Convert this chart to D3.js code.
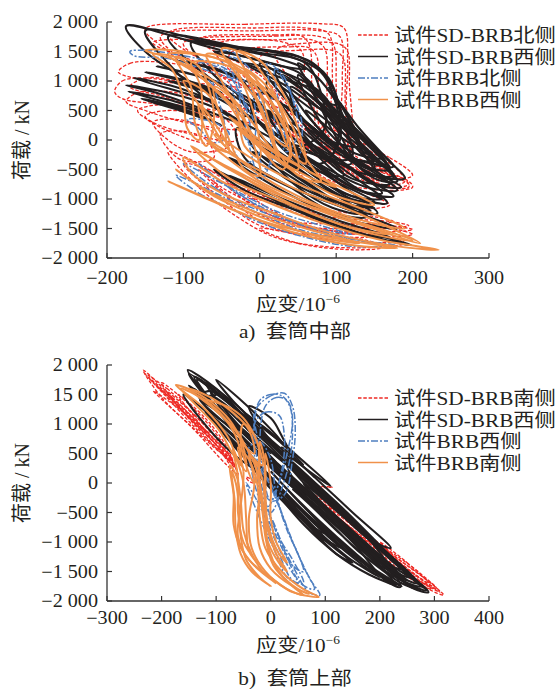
<!DOCTYPE html>
<html>
<head>
<meta charset="utf-8">
<script src="https://cdn.jsdelivr.net/npm/d3@7"></script>
<style>
  body { margin: 0; background: #fff; }
  text { font-family: 'Liberation Serif', 'Noto Sans CJK SC', serif; fill: #231f20; }
</style>
</head>
<body>
<svg id="chart"></svg>
<script>
const width = 558
const height = 689

// tick values and labels
const yTicks = [2000, 1500, 1000, 500, 0, -500, -1000, -1500, -2000]
const yLabelsTop = ['2 000', '1 500', '1 000', '500', '0', '−500', '−1 000', '−1 500', '−2 000']
const yLabelsBottom = ['2 000', '15 00', '1 000', '500', '0', '−500', '−1 000', '−1 500', '−2 000']
const xTicksTop = [-200, -100, 0, 100, 200, 300]
const xTicksBottom = [-300, -200, -100, 0, 100, 200, 300, 400]
const legendTop = ['试件SD-BRB北侧', '试件SD-BRB西侧', '试件BRB北侧', '试件BRB西侧']
const legendBottom = ['试件SD-BRB南侧', '试件SD-BRB西侧', '试件BRB西侧', '试件BRB南侧']
const captions = ['a)  套筒中部', 'b)  套筒上部']

// hysteresis loops, [strain, load]
const topRed = [
  [[-150,1880],[-20,1960],[80,1970],[110,1900],[115,1300],[115,400],[140,-300],[190,-700],[150,-750],[60,-100],[-40,700],[-120,1500]],
  [[-130,1750],[0,1850],[80,1850],[105,1750],[108,1000],[110,200],[150,-400],[175,-650],[120,-500],[30,200],[-60,1000]],
  [[-100,1640],[20,1760],[75,1760],[95,1650],[100,900],[100,0],[140,-500],[160,-700],[100,-400],[0,500],[-60,1200]],
  [[-60,1580],[30,1700],[70,1690],[85,1550],[88,800],[90,-200],[130,-650],[80,-300],[20,500]],
  [[-40,1450],[40,1580],[65,1560],[75,1400],[75,500],[80,-300],[60,-100],[0,800]],
  [[0,1400],[50,1520],[100,1500],[110,1350],[112,600],[120,-200],[160,-500],[110,-300],[50,300]],
  [[20,1500],[70,1650],[105,1620],[115,1500],[118,800],[130,0],[180,-500],[195,-800],[150,-700],[100,-100],[60,700]],
  [[-120,1800],[0,1900],[60,1900],[90,1800],[95,1100],[95,300],[120,-200],[90,-100],[40,500]],
  [[-80,1700],[20,1780],[55,1760],[65,1600],[68,900],[70,200],[50,400],[0,1100]],
  [[-140,1650],[-50,1700],[30,1660],[55,1500],[55,900],[40,500],[-20,900],[-80,1300]],
  [[-190,820],[-180,1000],[-150,1050],[-100,950],[-40,700],[0,300],[-60,400],[-130,600],[-180,700]],
  [[-185,1150],[-170,1300],[-130,1320],[-80,1200],[-20,900],[-70,950],[-140,1000]],
  [[-175,650],[-160,800],[-120,820],[-60,600],[-20,200],[-80,250],[-150,500]],
  [[-170,900],[-150,1050],[-110,1000],[-60,800],[-30,500],[-80,550],[-130,750]],
  [[-160,500],[-130,600],[-90,550],[-40,300],[-30,0],[-90,100],[-140,300]],
  [[-150,400],[-120,500],[-80,420],[-50,200],[-60,-50],[-110,100]],
  [[-140,300],[-110,350],[-70,200],[-40,-100],[-90,-200],[-125,50]],
  [[-130,100],[-100,150],[-70,0],[-60,-300],[-100,-350],[-120,-150]],
  [[-120,-200],[-80,-800],[-30,-1300],[20,-1650],[80,-1800],[150,-1820],[190,-1750],[170,-1650],[100,-1550],[40,-1350],[-20,-900],[-80,-400]],
  [[-100,-400],[-50,-1000],[0,-1450],[60,-1600],[140,-1650],[200,-1600],[180,-1520],[110,-1450],[40,-1200],[-30,-700]],
  [[-80,-500],[-30,-1100],[20,-1500],[100,-1700],[180,-1720],[160,-1620],[80,-1550],[10,-1200],[-50,-800]],
  [[-60,-700],[-10,-1200],[40,-1450],[120,-1500],[195,-1450],[170,-1380],[90,-1300],[20,-1000]],
  [[-40,-800],[10,-1250],[70,-1500],[150,-1560],[200,-1520],[170,-1450],[90,-1380],[30,-1100]],
  [[-20,-1000],[30,-1350],[100,-1420],[175,-1380],[150,-1300],[60,-1150]],
  [[0,-1500],[50,-1750],[120,-1860],[160,-1820],[140,-1700],[60,-1600]],
  [[60,-100],[150,-500],[195,-700],[200,-800],[160,-850],[80,-600]],
  [[80,200],[170,-300],[200,-600],[170,-650],[100,-300]],
  [[100,-200],[160,-550],[195,-750],[170,-800],[120,-500]],
  [[40,-300],[120,-800],[170,-1100],[130,-1150],[70,-800]]
]
const topBlack = [
  [[-175,1930],[-80,1650],[20,1500],[70,1300],[95,900],[110,300],[120,-300],[60,-200],[0,300],[-80,900],[-150,1500]],
  [[-150,1850],[-50,1600],[30,1450],[80,1150],[100,600],[105,0],[80,-400],[20,0],[-60,600],[-120,1300]],
  [[-120,1750],[-20,1560],[50,1420],[90,1050],[105,300],[90,-300],[40,200],[-40,800]],
  [[-90,1650],[0,1480],[60,1300],[80,800],[85,200],[50,-100],[0,500],[-60,1100]],
  [[-100,1700],[-40,1550],[20,1400],[60,1200],[30,1250],[-30,1450]],
  [[-60,1500],[0,1350],[50,1150],[70,900],[40,1000],[-10,1250]],
  [[-20,1300],[40,1100],[80,800],[100,400],[70,600],[30,950]],
  [[50,1300],[80,1000],[100,600],[80,700]],
  [[-175,930],[-120,800],[-60,550],[-30,300],[-70,500],[-130,780]],
  [[-172,820],[-110,650],[-60,400],[-90,520],[-140,700]],
  [[-165,1050],[-110,900],[-60,650],[-100,800]],
  [[-155,700],[-110,560],[-70,350],[-100,480]],
  [[-150,1150],[-100,1000],[-50,800],[-80,950],[-120,1080]],
  [[-120,1000],[-70,850],[-30,600],[-60,780]],
  [[-135,1250],[-90,1120],[-40,900],[-70,1050]],
  [[-130,650],[-90,480],[-50,250],[-80,420]],
  [[-110,1350],[-60,1200],[-20,1000],[-50,1180]],
  [[0,800],[60,300],[120,-300],[180,-850],[140,-800],[90,-500],[30,0],[-10,500]],
  [[-10,600],[50,100],[110,-500],[167,-1070],[120,-950],[60,-500],[0,100]],
  [[-20,400],[40,-100],[100,-700],[154,-1240],[110,-1150],[50,-700],[-10,-100]],
  [[10,1000],[70,500],[130,-100],[175,-600],[130,-550],[70,-100],[20,500]],
  [[20,1200],[80,700],[140,0],[165,-400],[120,-300],[60,300]],
  [[30,1100],[70,700],[110,200],[150,-300],[175,-650],[140,-550],[100,-100],[60,450]],
  [[0,1300],[50,900],[100,400],[130,-100],[90,0],[40,600]],
  [[50,1100],[90,600],[130,100],[160,-300],[120,-200],[80,300]],
  [[60,1000],[100,500],[140,0],[175,-450],[150,-400],[110,100]],
  [[70,800],[110,300],[150,-200],[170,-500],[130,-400],[100,200]],
  [[80,600],[120,100],[160,-400],[180,-700],[150,-650],[110,-150]],
  [[100,700],[130,200],[165,-300],[190,-650],[160,-600],[130,-100]],
  [[110,400],[140,-50],[170,-450],[150,-350]],
  [[60,500],[100,100],[150,-350],[120,-300],[80,150]],
  [[90,900],[110,500],[130,0],[120,300]],
  [[-20,1000],[30,600],[80,100],[120,-400],[80,-300],[30,200]],
  [[-30,800],[20,400],[70,-100],[110,-600],[70,-500],[20,0]],
  [[10,500],[60,0],[110,-400],[160,-900],[130,-850],[80,-450],[30,50]],
  [[40,300],[90,-200],[140,-650],[175,-950],[140,-900],[90,-450]],
  [[-30,200],[30,-300],[90,-850],[140,-1300],[100,-1250],[40,-800],[-20,-300]],
  [[20,0],[70,-400],[120,-800],[160,-1000],[120,-950],[70,-600]],
  [[50,-300],[100,-700],[150,-1050],[120,-1000],[80,-650]],
  [[-10,-200],[50,-600],[110,-1000],[150,-1150],[100,-1050],[40,-700]],
  [[0,-100],[50,-500],[100,-900],[145,-1200],[110,-1100],[60,-700]],
  [[20,-400],[80,-900],[130,-1250],[95,-1150],[50,-800]],
  [[40,900],[90,400],[140,-200],[150,-500],[100,-200],[50,400]],
  [[30,600],[80,100],[130,-450],[170,-750],[120,-650],[70,-100]],
  [[60,200],[110,-200],[160,-600],[185,-800],[150,-750],[100,-300]],
  [[-60,-500],[20,-1000],[100,-1400],[198,-1780],[150,-1650],[60,-1250],[-20,-850]],
  [[-40,-300],[40,-800],[120,-1200],[180,-1500],[130,-1400],[50,-1000]],
  [[-40,-600],[30,-1000],[100,-1350],[170,-1650],[120,-1550],[40,-1150]]
]
const topBlue = [
  [[-170,1500],[-150,1520],[-110,1450],[-60,1300],[-20,1000],[-50,1100],[-120,1380],[-165,1430]],
  [[-95,350],[-80,200],[-60,-50],[-40,100],[-60,300]],
  [[-40,1400],[-20,1300],[0,900],[10,300],[15,-300],[0,-700],[-10,-300],[-20,300],[-30,900]],
  [[-50,1500],[-30,1450],[-15,1000],[-5,400],[-10,-100],[-25,200],[-35,800]],
  [[-30,1200],[-10,1000],[5,500],[20,0],[10,-500],[-5,-200],[-15,400]],
  [[-60,1000],[-30,800],[-10,400],[0,-200],[-20,-400],[-40,0],[-50,500]],
  [[-80,1300],[-50,1200],[-30,900],[-20,500],[-40,600],[-60,900]],
  [[10,1300],[30,1100],[45,600],[50,100],[35,-200],[20,300],[15,800]],
  [[20,1200],[40,800],[55,300],[50,-300],[35,0],[25,600]],
  [[-110,-600],[-80,-900],[-40,-1150],[0,-1400],[60,-1650],[120,-1800],[178,-1790],[130,-1700],[60,-1550],[0,-1250],[-50,-950],[-90,-700]],
  [[-100,-400],[-60,-800],[-10,-1150],[60,-1450],[120,-1600],[80,-1450],[20,-1200],[-40,-800]],
  [[-80,-400],[-40,-800],[10,-1200],[80,-1550],[150,-1750],[100,-1600],[30,-1300],[-30,-900]]
]
const topOrange = [
  [[-150,1520],[-100,1500],[-40,1300],[0,900],[30,300],[40,-300],[20,-200],[-10,300],[-50,900],[-110,1350]],
  [[-120,1450],[-60,1400],[-10,1100],[20,500],[40,-100],[30,-500],[0,-100],[-30,500],[-80,1100]],
  [[-90,1300],[-40,1250],[-5,900],[10,400],[20,-300],[-10,0],[-40,600]],
  [[-30,1500],[0,1350],[30,800],[50,200],[60,-400],[40,-200],[20,400],[-10,1000]],
  [[-50,1550],[-20,1450],[10,1000],[30,400],[35,-100],[15,100],[0,600],[-30,1100]],
  [[-70,1450],[-40,1350],[-20,900],[-5,300],[0,-300],[-20,-100],[-30,500],[-50,1000]],
  [[-140,1450],[-100,1350],[-80,1000],[-75,500],[-80,0],[-95,200],[-100,700],[-115,1200]],
  [[-110,1400],[-80,1250],[-65,800],[-60,300],[-70,-100],[-85,300],[-90,900]],
  [[-100,1000],[-70,800],[-50,400],[-45,-100],[-60,200],[-80,600]],
  [[-60,900],[-30,600],[-10,0],[0,-600],[-20,-500],[-40,0]],
  [[-10,1000],[20,700],[40,100],[50,-500],[30,-400],[10,200]],
  [[-80,600],[-60,300],[-40,-200],[-60,-100],[-75,300]],
  [[-100,-300],[-50,-700],[0,-1000],[80,-1400],[160,-1700],[234,-1860],[190,-1820],[100,-1600],[20,-1250],[-50,-900],[-90,-550]],
  [[-80,-200],[-20,-600],[40,-1000],[120,-1350],[200,-1700],[150,-1600],[60,-1200],[0,-800],[-50,-400]],
  [[-90,-100],[-40,-500],[20,-900],[100,-1300],[170,-1600],[110,-1450],[30,-1050],[-40,-650]],
  [[-70,0],[-10,-450],[50,-850],[130,-1250],[210,-1750],[160,-1550],[80,-1150],[0,-700]],
  [[-60,100],[0,-400],[60,-800],[140,-1200],[190,-1500],[130,-1350],[50,-950],[-10,-500]],
  [[-30,200],[30,-300],[90,-700],[150,-1100],[100,-950],[40,-500]],
  [[-110,-500],[-70,-850],[-10,-1200],[60,-1500],[130,-1750],[80,-1650],[10,-1350],[-60,-950]],
  [[-120,-700],[-60,-1050],[10,-1400],[90,-1650],[180,-1830],[120,-1780],[40,-1550],[-40,-1150]],
  [[-40,400],[10,-100],[60,-500],[100,-800],[60,-600],[10,-200]],
  [[-20,1200],[10,900],[40,300],[60,-300],[80,-700],[50,-600],[20,-100],[0,600]]
]

const botRed = [
  [[-234,1915],[-180,1450],[-120,900],[-75,450],[-60,150],[-80,300],[-140,900],[-200,1450]],
  [[-230,1850],[-190,1600],[-150,1250],[-110,850],[-130,950],[-180,1400]],
  [[-225,1800],[-170,1350],[-115,850],[-72,380],[-95,600],[-155,1150],[-205,1600]],
  [[-215,1560],[-160,1200],[-110,800],[-70,400],[-90,500],[-150,1000]],
  [[-210,1650],[-150,1150],[-100,650],[-68,300],[-90,500],[-140,950],[-190,1450]],
  [[-200,1700],[-140,1250],[-90,700],[-65,250],[-100,650],[-170,1300]],
  [[-190,1550],[-140,1150],[-95,700],[-70,350],[-100,600],[-160,1200]],
  [[-170,1500],[-120,1100],[-80,600],[-60,100],[-85,450],[-130,1000]],
  [[-45,100],[-35,60],[-30,0],[-40,30]],
  [[60,-60],[113,-70],[60,-75]],
  [[80,-200],[150,-700],[220,-1200],[280,-1600],[317,-1900],[290,-1800],[230,-1350],[160,-850],[100,-400]],
  [[90,-300],[160,-800],[230,-1300],[295,-1800],[260,-1650],[190,-1100],[120,-550]],
  [[110,-400],[180,-900],[250,-1400],[300,-1750],[270,-1650],[200,-1150],[130,-650]],
  [[130,-550],[190,-1000],[250,-1450],[310,-1850],[280,-1700],[220,-1250],[160,-800]],
  [[150,-700],[210,-1100],[270,-1500],[305,-1800],[260,-1600],[190,-1050]],
  [[200,-1000],[250,-1350],[290,-1700],[255,-1500]]
]
const botBlack = [
  [[-152,1915],[-100,1600],[-40,1050],[20,500],[80,-100],[150,-700],[220,-1300],[289,-1850],[260,-1780],[190,-1250],[120,-700],[50,-150],[-10,350],[-70,950],[-130,1600]],
  [[-150,1850],[-90,1450],[-30,950],[30,400],[100,-250],[170,-850],[240,-1450],[285,-1820],[250,-1700],[180,-1150],[110,-550],[40,0],[-20,500],[-90,1150]],
  [[-140,1800],[-80,1400],[-20,850],[40,300],[110,-350],[180,-950],[238,-1760],[210,-1650],[150,-1000],[80,-400],[20,100],[-40,650],[-100,1250]],
  [[-135,1750],[-75,1350],[-15,800],[50,250],[120,-400],[190,-1000],[260,-1600],[225,-1500],[160,-950],[90,-350],[25,200],[-40,750],[-110,1400]],
  [[-120,1700],[-60,1300],[0,700],[70,100],[140,-500],[210,-1150],[270,-1700],[240,-1600],[180,-1100],[110,-500],[40,50],[-20,600],[-80,1200]],
  [[-110,1550],[-50,1150],[10,600],[80,0],[150,-650],[220,-1250],[275,-1750],[240,-1650],[170,-1100],[100,-450],[30,100],[-30,650],[-90,1250]],
  [[-160,1500],[-110,1150],[-60,750],[0,300],[60,-200],[130,-800],[200,-1400],[229,-1730],[190,-1500],[120,-950],[50,-400],[-10,100],[-70,500],[-130,1100]],
  [[-100,1450],[-40,1000],[20,500],[90,-100],[160,-700],[230,-1350],[280,-1780],[250,-1550],[180,-950],[110,-350],[40,250],[-30,800]],
  [[-90,1350],[-30,900],[30,400],[100,-200],[170,-850],[240,-1450],[205,-1350],[140,-750],[70,-150],[10,350],[-50,850]],
  [[-100,1750],[-60,1450],[-20,1100],[20,700],[-10,900],[-60,1300]],
  [[-125,1520],[-110,1560],[-100,1500],[-115,1480]],
  [[-150,1650],[-100,1300],[-50,900],[0,500],[-30,700],[-90,1150]],
  [[-140,1600],[-100,1250],[-60,900],[-110,1200]],
  [[-130,1400],[-80,1100],[-30,700],[10,350],[-20,500],[-70,900]],
  [[-120,1200],[-70,800],[-20,300],[40,-300],[100,-850],[70,-700],[10,-150],[-40,350],[-90,900]],
  [[-100,1000],[-50,550],[10,0],[70,-600],[130,-1100],[100,-950],[40,-400],[-20,150],[-70,650]],
  [[-80,800],[-30,300],[30,-300],[90,-900],[150,-1350],[120,-1200],[60,-650],[0,-100],[-50,450]],
  [[-60,600],[0,-50],[60,-700],[120,-1200],[180,-1550],[229,-1730],[200,-1550],[140,-1150],[80,-650],[20,-100],[-40,450]],
  [[-40,500],[20,-150],[80,-750],[140,-1250],[200,-1600],[170,-1400],[110,-950],[50,-400],[-10,200]],
  [[-50,1200],[0,850],[50,450],[110,-50],[70,200],[10,650]],
  [[0,400],[60,-100],[130,-650],[200,-1250],[250,-1650],[220,-1450],[150,-900],[80,-350],[20,150]],
  [[0,200],[60,-400],[120,-950],[180,-1400],[240,-1750],[210,-1600],[150,-1150],[90,-650],[30,-100]],
  [[20,600],[80,100],[150,-500],[220,-1100],[180,-950],[110,-350],[50,150]],
  [[30,300],[90,-300],[160,-900],[230,-1500],[200,-1400],[130,-800],[60,-200]],
  [[40,-100],[100,-600],[160,-1150],[220,-1550],[270,-1800],[240,-1700],[180,-1300],[120,-800],[70,-350]],
  [[60,0],[130,-550],[200,-1100],[260,-1600],[230,-1450],[160,-900],[90,-350]],
  [[80,-300],[140,-800],[200,-1300],[250,-1650],[220,-1500],[160,-1000],[110,-550]],
  [[-60,1100],[-10,700],[40,250],[80,-50],[30,300],[-20,700]],
  [[-40,1300],[0,1100],[20,800],[40,400],[10,600]],
  [[-20,1000],[20,700],[60,300],[40,500]]
]
const botBlue = [
  [[-20,1400],[0,1500],[20,1480],[35,1300],[40,900],[35,400],[20,-100],[0,-500],[-20,-200],[-25,400],[-30,1000]],
  [[-30,1200],[-5,1450],[25,1520],[40,1300],[45,900],[40,400],[25,-200],[0,-300],[-15,300],[-25,800]],
  [[-10,1300],[10,1450],[30,1400],[40,1100],[30,500],[15,0],[-5,-400],[-15,100],[-20,700]],
  [[-30,1000],[-10,1200],[15,1150],[25,800],[20,200],[0,-300],[-20,0],[-30,500]],
  [[-40,600],[-20,700],[0,400],[10,-200],[30,-800],[50,-1200],[60,-1500],[40,-1400],[10,-900],[-20,-300],[-35,200]],
  [[-35,300],[-10,100],[15,-400],[40,-1000],[65,-1500],[80,-1800],[55,-1700],[25,-1150],[0,-600],[-20,-100]],
  [[-20,200],[0,0],[20,-500],[45,-1100],[70,-1600],[90,-1900],[70,-1850],[40,-1400],[10,-800],[-10,-300]],
  [[-45,0],[-25,-300],[0,-800],[25,-1300],[50,-1700],[30,-1600],[5,-1100],[-20,-600]],
  [[0,-600],[20,-1000],[40,-1300],[60,-1700],[40,-1650],[15,-1200],[-5,-800]]
]
const botOrange = [
  [[-174,1660],[-140,1550],[-100,1300],[-70,1000],[-50,600],[-45,200],[-60,400],[-80,800],[-120,1250],[-160,1550]],
  [[-165,1600],[-120,1400],[-85,1100],[-60,700],[-55,300],[-70,500],[-95,900],[-140,1350]],
  [[-150,1600],[-110,1450],[-70,1200],[-40,900],[-30,500],[-45,600],[-70,950],[-110,1300]],
  [[-120,1400],[-80,1300],[-50,1100],[-25,700],[-15,300],[-35,450],[-60,850],[-95,1200]],
  [[-60,600],[-50,200],[-55,-400],[-60,-900],[-40,-1300],[0,-1600],[40,-1850],[88,-1930],[60,-1800],[20,-1500],[-10,-1100],[-20,-600],[-25,0],[-40,400]],
  [[-40,500],[-30,0],[-40,-600],[-35,-1100],[-10,-1500],[30,-1800],[60,-1900],[40,-1750],[5,-1400],[-10,-900],[-15,-300],[-25,200]],
  [[-30,400],[-20,-100],[-25,-600],[-20,-1100],[0,-1450],[40,-1750],[70,-1880],[50,-1800],[15,-1500],[-5,-1050],[-10,-500],[-15,50]],
  [[-75,300],[-68,-200],[-68,-700],[-55,-1100],[-30,-1400],[10,-1700],[-10,-1550],[-35,-1200],[-50,-800],[-55,-300],[-62,100]],
  [[-72,200],[-66,-300],[-64,-800],[-55,-1200],[-35,-1500],[0,-1750],[-20,-1600],[-45,-1300],[-55,-900],[-58,-400],[-64,0]],
  [[-70,600],[-60,100],[-60,-500],[-50,-1000],[-25,-1350],[-40,-1150],[-45,-600],[-50,0]],
  [[-20,700],[-10,300],[-10,-300],[-5,-800],[10,-1200],[30,-1500],[15,-1350],[-5,-1000],[-15,-500],[-20,0]],
  [[-10,500],[0,0],[0,-600],[10,-1000],[30,-1350],[15,-1200],[-5,-700],[-10,-100]],
  [[-50,1000],[-30,800],[-20,400],[-30,0],[-45,300],[-55,700]]
]

const styles = [
  { color: '#ee2a24', width: 1.3, dash: '3.5,1.8' },
  { color: '#231f20', width: 2.1, dash: null },
  { color: '#4f7fc0', width: 1.5, dash: '7,2,2,2' },
  { color: '#f0914a', width: 2.0, dash: null }
]
const legendWidths = [1.3, 1.5, 1.5, 1.5]

const panels = [
  { xDomain: [-200, 300], top: 22, bottom: 258, xTicks: xTicksTop, yLabels: yLabelsTop,
    series: [topRed, topBlack, topBlue, topOrange], legend: legendTop, legendY: 35,
    tickLabelY: 284, titleY: 311, caption: captions[0], captionY: 338 },
  { xDomain: [-300, 400], top: 365, bottom: 601, xTicks: xTicksBottom, yLabels: yLabelsBottom,
    series: [botRed, botBlack, botBlue, botOrange], legend: legendBottom, legendY: 398,
    tickLabelY: 624, titleY: 652, caption: captions[1], captionY: 685 }
]

const svg = d3.select('#chart').attr('width', width).attr('height', height)

const stretchText = (g, x, y, str, anchor, size) =>
  g.append('text')
    .attr('transform', `translate(${x},${y}) scale(1.12,1)`)
    .attr('text-anchor', anchor)
    .attr('font-size', size)
    .text(str)

panels.forEach(p => {
  const x = d3.scaleLinear().domain(p.xDomain).range([107, 489])
  const y = d3.scaleLinear().domain([-2000, 2000]).range([p.bottom, p.top])
  const g = svg.append('g')

  const line = d3.line()
    .x(d => x(d[0]))
    .y(d => y(d[1]))
    .curve(d3.curveCatmullRomClosed.alpha(0.5))

  // loops, red first and orange on top
  p.series.forEach((loops, i) => {
    const s = styles[i]
    g.append('g')
      .selectAll('path')
      .data(loops)
      .enter()
      .append('path')
      .attr('d', line)
      .attr('fill', 'none')
      .attr('stroke', s.color)
      .attr('stroke-width', s.width)
      .attr('stroke-dasharray', s.dash)
  })

  // axes
  const axisColor = '#333'
  g.append('line').attr('x1', 107).attr('x2', 107).attr('y1', p.top).attr('y2', p.bottom)
    .attr('stroke', axisColor).attr('stroke-width', 1.3)
  g.append('line').attr('x1', 107).attr('x2', 489).attr('y1', p.bottom).attr('y2', p.bottom)
    .attr('stroke', axisColor).attr('stroke-width', 1.3)

  yTicks.forEach((t, i) => {
    g.append('line').attr('x1', 107).attr('x2', 112).attr('y1', y(t)).attr('y2', y(t))
      .attr('stroke', axisColor).attr('stroke-width', 1.2)
    stretchText(g, 98, y(t) + 6, p.yLabels[i], 'end', 18)
  })
  p.xTicks.forEach(t => {
    g.append('line').attr('x1', x(t)).attr('x2', x(t)).attr('y1', p.bottom).attr('y2', p.bottom - 5)
      .attr('stroke', axisColor).attr('stroke-width', 1.2)
    stretchText(g, x(t), p.tickLabelY, t < 0 ? '−' + Math.abs(t) : String(t), 'middle', 18)
  })

  // axis titles
  g.append('text')
    .attr('transform', `translate(29,${(p.top + p.bottom) / 2}) rotate(-90)`)
    .attr('text-anchor', 'middle')
    .attr('font-size', 20)
    .text('荷载 / kN')

  const xt = stretchText(g, 298, p.titleY, '应变/10', 'middle', 19)
  xt.append('tspan').attr('font-size', 12).attr('dy', -8).text('−6')

  stretchText(g, 295, p.captionY, p.caption, 'middle', 19).attr('xml:space', 'preserve')

  // legend
  p.legend.forEach((name, i) => {
    const s = styles[i]
    const ly = p.legendY + i * 21.5
    g.append('line').attr('x1', 358).attr('x2', 388).attr('y1', ly).attr('y2', ly)
      .attr('stroke', s.color).attr('stroke-width', legendWidths[i])
      .attr('stroke-dasharray', s.dash)
    stretchText(g, 394, ly + 7, name, 'start', 19)
  })
})
</script>
</body>
</html>
